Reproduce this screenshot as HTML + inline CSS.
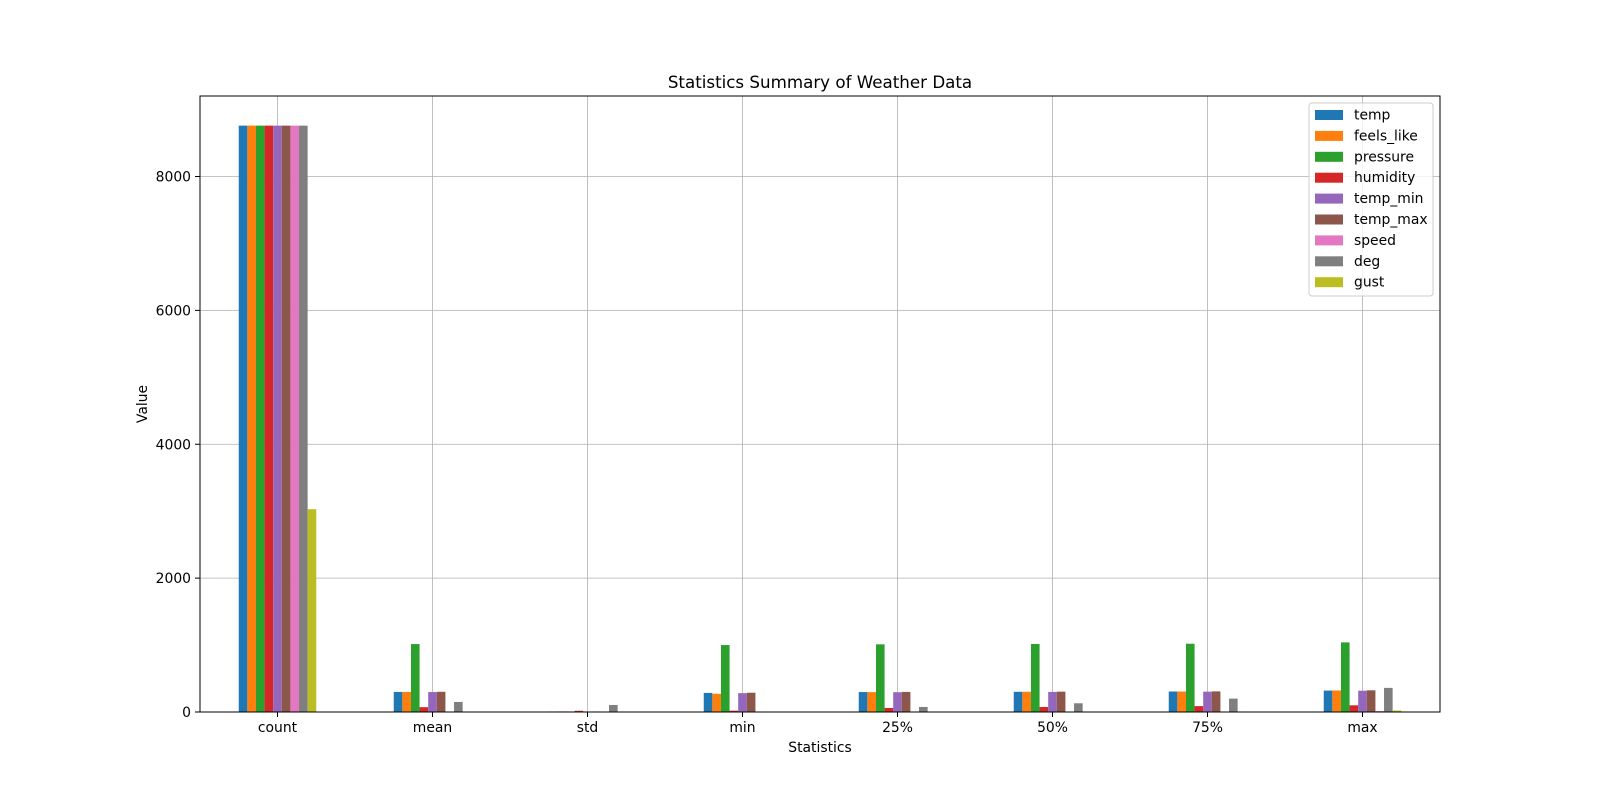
<!DOCTYPE html>
<html><head><meta charset="utf-8"><style>
body{margin:0;background:#fff;}
svg text{font-family:"DejaVu Sans","Liberation Sans",sans-serif;fill:#000;}
</style></head><body>
<svg id="chart" width="1600" height="800" xmlns="http://www.w3.org/2000/svg">
<rect width="1600" height="800" fill="#fff"/>
<g id="grid"></g><g id="bars"></g><g id="axes"></g><g id="legend"></g>
<text x="820" y="88" font-size="16.7" text-anchor="middle">Statistics Summary of Weather Data</text>
<text x="820" y="752" font-size="13.9" text-anchor="middle">Statistics</text>
<text x="147" y="404" font-size="13.9" text-anchor="middle" transform="rotate(-90 147 404)">Value</text>
</svg>
<script>
const categories=["count","mean","std","min","25%","50%","75%","max"];
const seriesNames=["temp","feels_like","pressure","humidity","temp_min","temp_max","speed","deg","gust"];
const colors=["#1f77b4","#ff7f0e","#2ca02c","#d62728","#9467bd","#8c564b","#e377c2","#7f7f7f","#bcbd22"];
const temp=[8760,300,8,285,298,302,306,320];
const feels_like=[8760,300,9,272,297,302,306,322];
const pressure=[8760,1015,8,1000,1011,1016,1020,1040];
const humidity=[8760,72,18,20,60,75,88,100];
const temp_min=[8760,298,8,282,296,300,304,318];
const temp_max=[8760,302,8,288,300,304,308,324];
const speed=[8760,3,2,0,2,3,4,14];
const deg=[8760,150,105,0,75,130,200,360];
const gust=[3030,6,3,0,3,5,8,22];
const yTicks=[0,2000,4000,6000,8000];
const series=[temp,feels_like,pressure,humidity,temp_min,temp_max,speed,deg,gust];
const L=200,R=1440,T=96,B=712;
const y=v=>B-v*((B-176.5)/8000);
const x=i=>L+(i+0.5)*(R-L)/categories.length;
const ns="http://www.w3.org/2000/svg";
function mk(tag,attrs,parent){const e=document.createElementNS(ns,tag);for(const k in attrs)e.setAttribute(k,attrs[k]);document.getElementById(parent).appendChild(e);return e;}
const unit=(R-L)/categories.length, bw=unit*0.5/series.length;
categories.forEach((c,i)=>{
 const g=mk("line",{x1:x(i),x2:x(i),y1:T,y2:B,stroke:"#b0b0b0","stroke-width":0.8},"grid");
 
 
 mk("line",{x1:x(i),x2:x(i),y1:B,y2:B+5,stroke:"#000"},"axes");
 const lab=mk("text",{x:x(i),y:B+20,"font-size":13.9,"text-anchor":"middle"},"axes");
 lab.textContent=c;
 
 
});
yTicks.forEach(v=>{
 const g=mk("line",{x1:L,x2:R,y1:y(v),y2:y(v),stroke:"#b0b0b0","stroke-width":0.8},"grid");
 
 
 mk("line",{x1:L-5,x2:L,y1:y(v),y2:y(v),stroke:"#000"},"axes");
 const lab=mk("text",{x:L-9,y:y(v)+5,"font-size":13.9,"text-anchor":"end"},"axes");
 lab.textContent=v;
 
 
});
series.forEach((s,j)=>{
 s.forEach((v,i)=>{
  const bx=x(i)-unit*0.25+j*bw;
  const r=mk("rect",{x:bx,y:y(v),width:bw,height:B-y(v),fill:colors[j]},"bars");
  
  
 });
});
const frame=mk("rect",{x:L,y:T,width:R-L,height:B-T,fill:"none",stroke:"#000","stroke-width":1},"axes");


const lb=mk("rect",{x:1309,y:103,width:124,height:193,fill:"#fff","fill-opacity":0.8,stroke:"#ccc",rx:3},"legend");


seriesNames.forEach((n,j)=>{
 const yy=114+j*20.9;
 const sw=mk("rect",{x:1315,y:yy-4,width:28,height:10,fill:colors[j]},"legend");
 
 
 const t=mk("text",{x:1354,y:yy+5.5,"font-size":13.9},"legend");
 t.textContent=n;
 
 
});
</script>
</body></html>
